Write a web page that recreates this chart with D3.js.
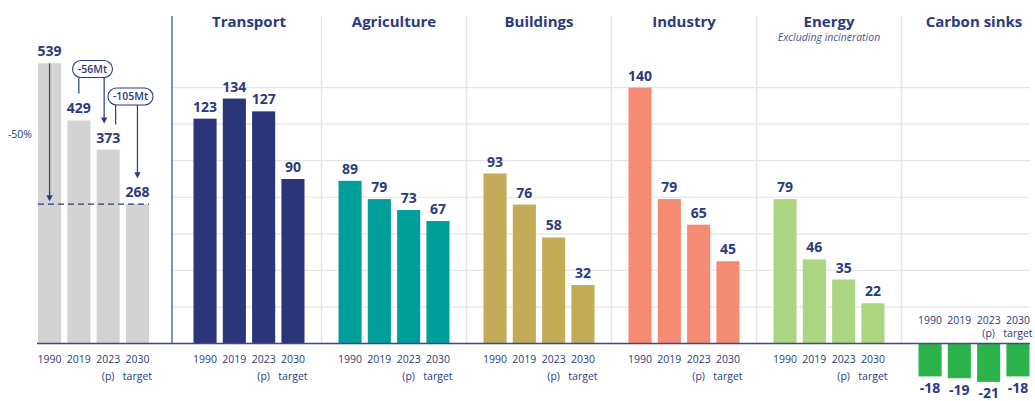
<!DOCTYPE html>
<html><head><meta charset="utf-8">
<script src="https://cdn.jsdelivr.net/npm/d3@7"></script>
<style>html,body{margin:0;padding:0;background:#fff}svg{display:block;font-family:"Open Sans",sans-serif}</style>
</head><body><svg id="c" width="1035" height="401"></svg>
<script>
const categories = ["Transport","Agriculture","Buildings","Industry","Energy","Carbon sinks"];
const years = ["1990","2019","2023","2030"];
const yearSub = ["","","(p)","target"];
const total = [539,429,373,268];
const transport = [123,134,127,90];
const agriculture = [89,79,73,67];
const buildings = [93,76,58,32];
const industry = [140,79,65,45];
const energy = [79,46,35,22];
const sinks = [-18,-19,-21,-18];
const colors = ["#2a357a","#009e9b","#c3ab58","#f48b72","#acd581","#2db34b"];
const gridTicks = [20,40,60,80,100,120,140];
const reductions = ["-56Mt","-105Mt"];
const halfLabel = "-50%";
const subtitle = "Excluding incineration";

const sectorValues = [transport,agriculture,buildings,industry,energy,sinks];
const navy = "#2b3a7e";
const svg = d3.select("#c");
const base = 343.5;

const yT = d3.scaleLinear().domain([0,539]).range([base,63.3]);
const yS = d3.scaleLinear().domain([0,140]).range([base,87.6]);
const panels = d3.scaleBand().domain(categories).range([176.5,176.5+145*6]);
const inner = d3.scaleBand().domain(years).paddingInner(0.212).paddingOuter(0);
const bw = () => inner.bandwidth();

// gridlines
svg.append("g").selectAll("line").data(gridTicks).join("line")
  .attr("x1",172).attr("x2",1030).attr("y1",d=>yS(d)).attr("y2",d=>yS(d))
  .attr("stroke","#e5e5e5").attr("stroke-width",1.2);
// separators
svg.append("g").selectAll("line").data(categories.slice(1)).join("line")
  .attr("x1",d=>panels(d)).attr("x2",d=>panels(d)).attr("y1",16).attr("y2",base)
  .attr("stroke","#e5e5e5").attr("stroke-width",1.5);

// total panel
const tc = 93.5;
inner.range([tc-55.5,tc+55.5]);
const gT = svg.append("g");
gT.selectAll("rect").data(total).join("rect")
  .attr("x",(d,i)=>inner(years[i])).attr("width",bw())
  .attr("y",d=>yT(d)).attr("height",d=>base-yT(d)).attr("fill","#d2d3d2");
gT.selectAll("text.v").data(total).join("text").attr("class","v")
  .attr("x",(d,i)=>inner(years[i])+bw()/2).attr("y",d=>yT(d)-7)
  .attr("text-anchor","middle").attr("font-weight",700).attr("font-size",14).attr("fill",navy).text(d=>d);
function xLabels(g, xs, y1, y2){
  g.selectAll("text.y1").data(years).join("text").attr("class","y1")
    .attr("x",(d,i)=>xs(i)).attr("y",y1).attr("text-anchor","middle").attr("font-size",10.5).attr("fill",navy).text(d=>d);
  g.selectAll("text.y2").data(yearSub).join("text").attr("class","y2")
    .attr("x",(d,i)=>xs(i)).attr("y",y2).attr("text-anchor","middle").attr("font-size",10.5).attr("fill",navy).text(d=>d);
}
{
  const xs = i=>inner(years[i])+bw()/2;
  xLabels(gT, xs, 363, 380);
  // dashed -50% line
  gT.append("line").attr("x1",inner("1990")).attr("x2",inner("2030")+bw())
    .attr("y1",yT(total[3])).attr("y2",yT(total[3])).attr("stroke",navy).attr("stroke-width",1.2).attr("stroke-dasharray","6,4");
  gT.append("text").attr("x",20).attr("y",138).attr("text-anchor","middle").attr("font-size",10.5).attr("fill",navy).text(halfLabel);
  const arrow = (x,y0,y1)=>{
    gT.append("line").attr("x1",x).attr("x2",x).attr("y1",y0).attr("y2",y1-5).attr("stroke",navy).attr("stroke-width",1.2);
    gT.append("path").attr("d",`M${x-3.2},${y1-6}L${x+3.2},${y1-6}L${x},${y1}Z`).attr("fill",navy);
  };
  arrow(xs(0), yT(total[0]), yT(total[3])-3);
  const pill = (cx,cy,w,txt)=>{
    gT.append("rect").attr("x",cx-w/2).attr("y",cy-8.5).attr("width",w).attr("height",17).attr("rx",8.5)
      .attr("fill","#fff").attr("stroke",navy).attr("stroke-width",1.1);
    gT.append("text").attr("x",cx).attr("y",cy+3.8).attr("text-anchor","middle").attr("font-size",10.5).attr("font-weight",600).attr("fill",navy).text(txt);
  };
  // -56Mt
  const p1x = 92.5, p1y = 69;
  gT.append("line").attr("x1",xs(1)).attr("x2",xs(1)).attr("y1",p1y+8.5).attr("y2",yT(total[1])-27).attr("stroke",navy).attr("stroke-width",1.2);
  arrow(xs(2)-4, p1y+8.5, yT(total[2])-26);
  pill(p1x,p1y,40,reductions[0]);
  // -105Mt
  const p2x = 130.5, p2y = 96.5;
  gT.append("line").attr("x1",xs(2)+7.5).attr("x2",xs(2)+7.5).attr("y1",p2y+8.5).attr("y2",yT(total[2])-25).attr("stroke",navy).attr("stroke-width",1.2);
  arrow(xs(3), p2y+8.5, yT(total[3])-26);
  pill(p2x,p2y,45,reductions[1]);
}

// sector panels
categories.forEach((cat,ci)=>{
  const c = panels(cat)+panels.bandwidth()/2;
  inner.range([c-55.5,c+55.5]);
  const vals = sectorValues[ci];
  const g = svg.append("g");
  g.selectAll("rect").data(vals).join("rect")
    .attr("x",(d,i)=>inner(years[i])).attr("width",bw())
    .attr("y",d=>Math.min(yS(d),base)).attr("height",d=>Math.abs(yS(d)-base)).attr("fill",colors[ci]);
  g.selectAll("text.v").data(vals).join("text").attr("class","v")
    .attr("x",(d,i)=>inner(years[i])+bw()/2).attr("y",d=>d>=0?yS(d)-7:yS(d)+16.5)
    .attr("text-anchor","middle").attr("font-weight",700).attr("font-size",14).attr("fill",navy).text(d=>d);
  const xs = i=>inner(years[i])+bw()/2;
  if (vals[0] >= 0) xLabels(g, xs, 363, 380); else xLabels(g, xs, 324, 336.5);
  g.append("text").attr("x",c).attr("y",26.5).attr("text-anchor","middle").attr("font-weight",700)
    .attr("font-size",15).attr("fill",navy).text(cat);
  if (cat==="Energy") g.append("text").attr("x",c).attr("y",41).attr("text-anchor","middle")
    .attr("font-style","italic").attr("font-size",10.5).attr("fill","#4a5590").text(subtitle);
});

// axis & baseline
svg.append("line").attr("x1",172).attr("x2",172).attr("y1",16).attr("y2",base).attr("stroke","#5d68a0").attr("stroke-width",1.5);
svg.append("line").attr("x1",37).attr("x2",1030).attr("y1",base).attr("y2",base).attr("stroke","#3d4a8a").attr("stroke-width",1.4);
</script></body></html>
